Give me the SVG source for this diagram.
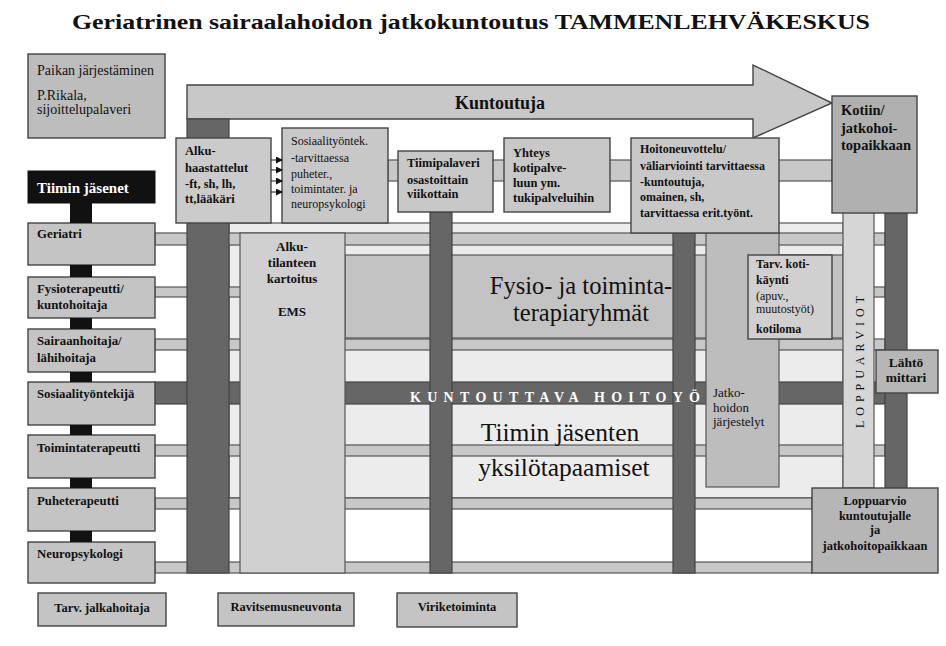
<svg xmlns="http://www.w3.org/2000/svg" width="946" height="646" viewBox="0 0 946 646" font-family="'Liberation Serif', 'Times New Roman', serif">
<defs>
<style>
text{font-family:"Liberation Serif","Times New Roman",serif;fill:#111}
.b{font-weight:bold}
.s{stroke:#444;stroke-width:1.4}
.band{fill:#c8c8c8;stroke:#555;stroke-width:1.2}
.dark{fill:#666;stroke:#444;stroke-width:1.2}
.box{fill:#c4c4c4;stroke:#444;stroke-width:1.4}
.mem{font-size:12.8px;font-weight:bold}
.t12{font-size:12px}
.t11{font-size:11px}
.t125{font-size:12.5px}
</style>
<marker id="ah" markerWidth="7" markerHeight="7" refX="6" refY="3.5" orient="auto" markerUnits="userSpaceOnUse">
<path d="M0,0 L7,3.5 L0,7 Z" fill="#111"/>
</marker>
</defs>
<rect width="946" height="646" fill="#fff"/>

<!-- Title -->
<text x="471" y="29" text-anchor="middle" class="b" font-size="22" textLength="798" lengthAdjust="spacingAndGlyphs">Geriatrinen sairaalahoidon jatkokuntoutus TAMMENLEHVÄKESKUS</text>

<!-- Background light field -->
<rect x="229" y="223" width="614" height="275" fill="#ececec" stroke="#555" stroke-width="1.2"/>

<!-- Kuntoutuja arrow -->
<g id="kuntoutuja">
<polygon points="187,85 753,85 753,65 832,103 753,138 753,119 187,119" fill="#c8c8c8" class="s"/>
<text x="500" y="109" text-anchor="middle" class="b" font-size="18">Kuntoutuja</text>
</g>

<!-- top horizontal band -->
<rect x="388" y="160" width="444" height="21" class="band"/>

<!-- member bands -->
<g id="bands">
<rect x="155" y="233" width="730" height="12" class="band"/>
<rect x="155" y="287" width="730" height="10" class="band"/>
<rect x="155" y="339" width="730" height="11" class="band"/>
<rect x="155" y="382" width="730" height="22" class="dark"/>
<rect x="155" y="445" width="730" height="11" class="band"/>
<rect x="155" y="498" width="657" height="11" class="band"/>
<rect x="155" y="562" width="657" height="11" class="band"/>
</g>

<!-- Fysio box -->
<g id="fysio">
<rect x="345" y="255" width="498" height="83" fill="#c3c3c3" stroke="#555" stroke-width="1.2"/>
<text x="581" y="294" text-anchor="middle" font-size="24.5">Fysio- ja toiminta-</text>
<text x="581" y="321" text-anchor="middle" font-size="24.5">terapiaryhmät</text>
</g>

<!-- Yksilötapaamiset text -->
<g id="yksilo">
<text x="560" y="441" text-anchor="middle" font-size="25.5">Tiimin jäsenten</text>
<text x="564" y="476" text-anchor="middle" font-size="25.5">yksilötapaamiset</text>
</g>

<!-- Alku-tilanteen kartoitus column -->
<g id="alkutilanne">
<rect x="240" y="233" width="105" height="340" fill="#d0d0d0" stroke="#555" stroke-width="1.2"/>
<text x="292" y="251" text-anchor="middle" class="b" font-size="13">Alku-</text>
<text x="292" y="267" text-anchor="middle" class="b" font-size="13">tilanteen</text>
<text x="292" y="283" text-anchor="middle" class="b" font-size="13">kartoitus</text>
<text x="292" y="316" text-anchor="middle" class="b" font-size="13">EMS</text>
</g>

<!-- Jatkohoidon column -->
<g id="jatkohoito">
<rect x="706" y="233" width="73" height="254" fill="#bdbdbd" stroke="#555" stroke-width="1.2"/>
<text x="713" y="397" font-size="13">Jatko-</text>
<text x="713" y="412" font-size="13">hoidon</text>
<text x="713" y="426" font-size="13">järjestelyt</text>
</g>

<!-- dark vertical bars -->
<g id="bars">
<rect x="187" y="119" width="42" height="454" class="dark"/>
<rect x="430" y="212" width="22" height="361" class="dark"/>
<rect x="673" y="233" width="22" height="340" class="dark"/>
<rect x="885" y="213" width="22" height="275" class="dark"/>
</g>

<text x="555" y="402" text-anchor="middle" class="b" font-size="14" style="fill:#fff" textLength="290" lengthAdjust="spacing">KUNTOUTTAVA HOITOYÖ</text>

<!-- LOPPUARVIOT column -->
<g id="loppuarviot">
<rect x="843" y="212" width="31" height="276" fill="#d6d6d6" stroke="#555" stroke-width="1.2"/>
<text transform="translate(864,362) rotate(-90)" text-anchor="middle" font-size="12" textLength="132" lengthAdjust="spacing">LOPPUARVIOT</text>
</g>

<!-- Tarv. kotikäynti -->
<g id="kotikaynti">
<rect x="748" y="255" width="84" height="84" fill="#d0d0d0" class="s"/>
<text x="756" y="268" class="b t12">Tarv. koti-</text>
<text x="756" y="284" class="b t12">käynti</text>
<text x="756" y="300" class="t12">(apuv.,</text>
<text x="756" y="313" class="t12">muutostyöt)</text>
<text x="756" y="333" class="b t12">kotiloma</text>
</g>

<!-- Lähtö mittari -->
<g id="lahtomittari">
<rect x="876" y="350" width="62" height="43" fill="#b6b6b6" class="s"/>
<text x="906" y="367" text-anchor="middle" class="b" font-size="13.5">Lähtö</text>
<text x="906" y="382" text-anchor="middle" class="b" font-size="13.5">mittari</text>
</g>

<!-- Loppuarvio -->
<g id="loppuarvio">
<rect x="812" y="488" width="126" height="85" fill="#b6b6b6" class="s"/>
<text x="875" y="505" text-anchor="middle" class="b t125">Loppuarvio</text>
<text x="875" y="520" text-anchor="middle" class="b t125">kuntoutujalle</text>
<text x="875" y="534" text-anchor="middle" class="b t125">ja</text>
<text x="875" y="550" text-anchor="middle" class="b t125">jatkohoitopaikkaan</text>
</g>

<!-- Kotiin box -->
<g id="kotiin">
<rect x="832" y="96" width="85" height="117" fill="#b0b0b0" class="s"/>
<text x="841" y="115" class="b" font-size="14.5">Kotiin/</text>
<text x="841" y="133" class="b" font-size="14.5">jatkohoi-</text>
<text x="841" y="150" class="b" font-size="14.5">topaikkaan</text>
</g>

<!-- Paikan järjestäminen -->
<g id="paikka">
<rect x="28" y="54" width="137" height="84" fill="#bdbdbd" class="s"/>
<text x="37" y="75" font-size="14">Paikan järjestäminen</text>
<text x="37" y="100" font-size="14">P.Rikala,</text>
<text x="37" y="114" font-size="14">sijoittelupalaveri</text>
</g>

<!-- Top process boxes -->
<g id="alkuhaastattelut">
<rect x="176" y="138" width="95" height="85" fill="#cbcbcb" class="s"/>
<text x="185" y="155" class="b t125">Alku-</text>
<text x="185" y="172" class="b t125">haastattelut</text>
<text x="185" y="188" class="b t125">-ft, sh, lh,</text>
<text x="185" y="203" class="b t125">tt,lääkäri</text>
</g>
<g id="sosiaalityontek">
<rect x="282" y="128" width="106" height="95" fill="#c8c8c8" class="s"/>
<text x="291" y="145" class="t12">Sosiaalityöntek.</text>
<text x="291" y="162" class="t12">-tarvittaessa</text>
<text x="291" y="178" class="t12">puheter.,</text>
<text x="291" y="193" class="t12">toimintater. ja</text>
<text x="291" y="208" class="t12">neuropsykologi</text>
</g>
<g id="tiimipalaveri">
<rect x="398" y="151" width="95" height="61" fill="#c8c8c8" class="s"/>
<text x="407" y="167" class="b t125">Tiimipalaveri</text>
<text x="407" y="184" class="b t125">osastoittain</text>
<text x="407" y="198" class="b t125">viikottain</text>
</g>
<g id="yhteys">
<rect x="504" y="138" width="106" height="74" fill="#c8c8c8" class="s"/>
<text x="513" y="157" class="b t125">Yhteys</text>
<text x="513" y="172" class="b t125">kotipalve-</text>
<text x="513" y="187" class="b t125">luun ym.</text>
<text x="513" y="202" class="b t125">tukipalveluihin</text>
</g>
<g id="hoitoneuvottelu">
<rect x="631" y="138" width="148" height="95" fill="#c8c8c8" class="s"/>
<text x="640" y="153" class="b t12">Hoitoneuvottelu/</text>
<text x="640" y="170" class="b t12">väliarviointi tarvittaessa</text>
<text x="640" y="186" class="b t12">-kuntoutuja,</text>
<text x="640" y="201" class="b t12">omainen, sh,</text>
<text x="640" y="217" class="b t12">tarvittaessa erit.työnt.</text>
</g>

<!-- Team members -->
<g id="tiimin-jasenet">
<rect x="28" y="171" width="127" height="32" fill="#111" stroke="#111"/>
<text x="37" y="193" class="b" font-size="15" style="fill:#fff">Tiimin jäsenet</text>
</g>
<g id="geriatri"><rect x="28" y="223" width="127" height="42" class="box"/><text x="37" y="238" class="mem">Geriatri</text></g>
<g id="fysioterapeutti"><rect x="28" y="277" width="127" height="41" class="box"/><text x="37" y="293" class="mem">Fysioterapeutti/</text><text x="37" y="309" class="mem">kuntohoitaja</text></g>
<g id="sairaanhoitaja"><rect x="28" y="329" width="127" height="43" class="box"/><text x="37" y="345" class="mem">Sairaanhoitaja/</text><text x="37" y="362" class="mem">lähihoitaja</text></g>
<g id="sosiaalityontekija"><rect x="28" y="382" width="127" height="43" class="box"/><text x="37" y="398" class="mem">Sosiaalityöntekijä</text></g>
<g id="toimintaterapeutti"><rect x="28" y="435" width="127" height="43" class="box"/><text x="37" y="452" class="mem">Toimintaterapeutti</text></g>
<g id="puheterapeutti"><rect x="28" y="488" width="127" height="43" class="box"/><text x="37" y="505" class="mem">Puheterapeutti</text></g>
<g id="neuropsykologi"><rect x="28" y="542" width="127" height="41" class="box"/><text x="37" y="558" class="mem">Neuropsykologi</text></g>

<!-- Bottom boxes -->
<g id="jalkahoitaja"><rect x="38" y="593" width="128" height="33" class="box"/><text x="102" y="612" text-anchor="middle" class="b t125">Tarv. jalkahoitaja</text></g>
<g id="ravitsemus"><rect x="218" y="593" width="136" height="33" class="box"/><text x="286" y="611" text-anchor="middle" class="b t125">Ravitsemusneuvonta</text></g>
<g id="viriketoiminta"><rect x="397" y="593" width="120" height="34" class="box"/><text x="457" y="611" text-anchor="middle" class="b t125">Viriketoiminta</text></g>

<!-- Connectors -->
<g id="connectors">
<g fill="#111">
<rect x="70" y="203" width="22" height="20"/>
<rect x="70" y="265" width="22" height="12"/>
<rect x="70" y="318" width="22" height="11"/>
<rect x="70" y="372" width="22" height="10"/>
<rect x="70" y="425" width="22" height="10"/>
<rect x="70" y="478" width="22" height="10"/>
<rect x="70" y="531" width="22" height="11"/>
</g>
<g stroke="#111" stroke-width="1" marker-end="url(#ah)">
<line x1="271" y1="160" x2="282" y2="160"/>
<line x1="271" y1="170" x2="282" y2="170"/>
<line x1="271" y1="181" x2="282" y2="181"/>
<line x1="271" y1="192" x2="282" y2="192"/>
</g>
</g>
</svg>
